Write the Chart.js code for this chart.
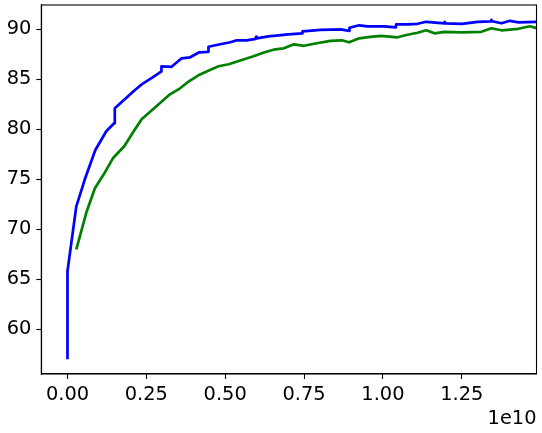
<!DOCTYPE html>
<html>
<head>
<meta charset="utf-8">
<script src="https://cdn.jsdelivr.net/npm/chart.js@4/dist/chart.umd.min.js"></script>
<style>
  html, body { margin: 0; padding: 0; background: #fff; }
  #wrap { width: 542px; height: 433px; }
</style>
</head>
<body>
<div id="wrap"><canvas id="myChart" width="542" height="433"></canvas></div>
<script>
// x values are in units of 1e10 (matches the offset label)
const blueX = [0, 0, 0.028, 0.055, 0.088, 0.123, 0.148, 0.150, 0.213, 0.240, 0.270, 0.298, 0.298, 0.330,
    0.362, 0.389, 0.418, 0.446, 0.447, 0.484, 0.516, 0.537, 0.568, 0.597, 0.598, 0.600, 0.637, 0.669,
    0.700, 0.744, 0.745, 0.803, 0.866, 0.893, 0.894, 0.925, 0.951, 1.004, 1.041, 1.042, 1.078, 1.110,
    1.137, 1.195, 1.196, 1.198, 1.250, 1.301, 1.343, 1.344, 1.346, 1.376, 1.403, 1.430, 1.495];
const blueY = [57.0, 65.8, 72.3, 75.0, 77.9, 79.8, 80.6, 82.1, 83.9, 84.6, 85.2, 85.8, 86.3, 86.25,
    87.1, 87.2, 87.7, 87.75, 88.25, 88.5, 88.7, 88.9, 88.9, 89.05, 89.25, 89.1, 89.3, 89.4,
    89.5, 89.6, 89.8, 89.95, 90.0, 89.85, 90.15, 90.4, 90.3, 90.3, 90.2, 90.5, 90.5, 90.55,
    90.75, 90.6, 90.75, 90.6, 90.55, 90.75, 90.8, 90.95, 90.8, 90.6, 90.85, 90.7, 90.75];

const greenX = [0.028, 0.060, 0.087, 0.115, 0.144, 0.180, 0.210, 0.235, 0.282, 0.325, 0.357, 0.385,
    0.415, 0.450, 0.479, 0.511, 0.550, 0.590, 0.625, 0.659, 0.686, 0.718, 0.750, 0.790, 0.834, 0.870,
    0.893, 0.925, 0.960, 0.994, 1.046, 1.078, 1.110, 1.137, 1.164, 1.195, 1.250, 1.312, 1.344, 1.376,
    1.429, 1.466, 1.495];
const greenY = [68.0, 71.7, 74.1, 75.5, 77.1, 78.3, 79.8, 81.0, 82.3, 83.5, 84.1, 84.8,
    85.4, 85.9, 86.3, 86.5, 86.9, 87.3, 87.7, 88.0, 88.1, 88.5, 88.35, 88.6, 88.85, 88.9,
    88.7, 89.1, 89.25, 89.35, 89.2, 89.45, 89.65, 89.9, 89.6, 89.75, 89.7, 89.75, 90.1, 89.9,
    90.05, 90.3, 90.05];

const xTicks = [0, 0.25, 0.5, 0.75, 1.0, 1.25];
const yTicks = [60, 65, 70, 75, 80, 85, 90];
const offsetLabel = '1e10';

const font = { family: 'DejaVu Sans', size: 19.4 };

// full box around the plot + the offset text
const framePlugin = {
    id: 'frame',
    afterDraw(chart) {
        const { ctx, chartArea: a } = chart;
        ctx.save();
        ctx.strokeStyle = '#000';
        ctx.lineWidth = 1.1;
        ctx.strokeRect(a.left, a.top, a.right - a.left, a.bottom - a.top);
        ctx.fillStyle = '#000';
        ctx.font = font.size + 'px ' + font.family;
        ctx.textAlign = 'right';
        ctx.textBaseline = 'alphabetic';
        ctx.fillText(offsetLabel, a.right, 424);
        ctx.restore();
    }
};

const ctx = document.getElementById('myChart').getContext('2d');
new Chart(ctx, {
    type: 'line',
    data: {
        datasets: [
            {
                data: blueX.map((x, i) => ({ x: x, y: blueY[i] })),
                borderColor: '#0000ff',
                borderWidth: 2.7,
                borderJoinStyle: 'round',
                pointRadius: 0,
                tension: 0
            },
            {
                data: greenX.map((x, i) => ({ x: x, y: greenY[i] })),
                borderColor: '#008000',
                borderWidth: 2.7,
                borderJoinStyle: 'round',
                pointRadius: 0,
                tension: 0
            }
        ]
    },
    options: {
        responsive: false,
        animation: false,
        layout: { padding: { left: 0, top: 5, right: 5.5, bottom: 0 } },
        plugins: {
            legend: { display: false },
            tooltip: { enabled: false }
        },
        scales: {
            x: {
                type: 'linear',
                min: -0.083,
                max: 1.487,
                afterBuildTicks: s => { s.ticks = xTicks.map(v => ({ value: v })); },
                afterFit: s => { s.height = 59; s.paddingLeft = 0; s.paddingRight = 0; },
                ticks: {
                    color: '#000',
                    font: font,
                    padding: 4,
                    maxRotation: 0,
                    callback: v => Number(v).toFixed(2)
                },
                grid: { drawOnChartArea: false, drawTicks: true, tickLength: 5, color: '#000', tickWidth: 1.1 },
                border: { display: true, color: '#000', width: 1.1 }
            },
            y: {
                type: 'linear',
                min: 55.53,
                max: 92.43,
                afterBuildTicks: s => { s.ticks = yTicks.map(v => ({ value: v })); },
                afterFit: s => { s.width = 41.3; s.paddingTop = 0; s.paddingBottom = 0; },
                ticks: {
                    color: '#000',
                    font: font,
                    padding: 5,
                    callback: v => String(v)
                },
                grid: { drawOnChartArea: false, drawTicks: true, tickLength: 5, color: '#000', tickWidth: 1.1 },
                border: { display: true, color: '#000', width: 1.1 }
            }
        }
    },
    plugins: [framePlugin]
});
</script>
</body>
</html>
